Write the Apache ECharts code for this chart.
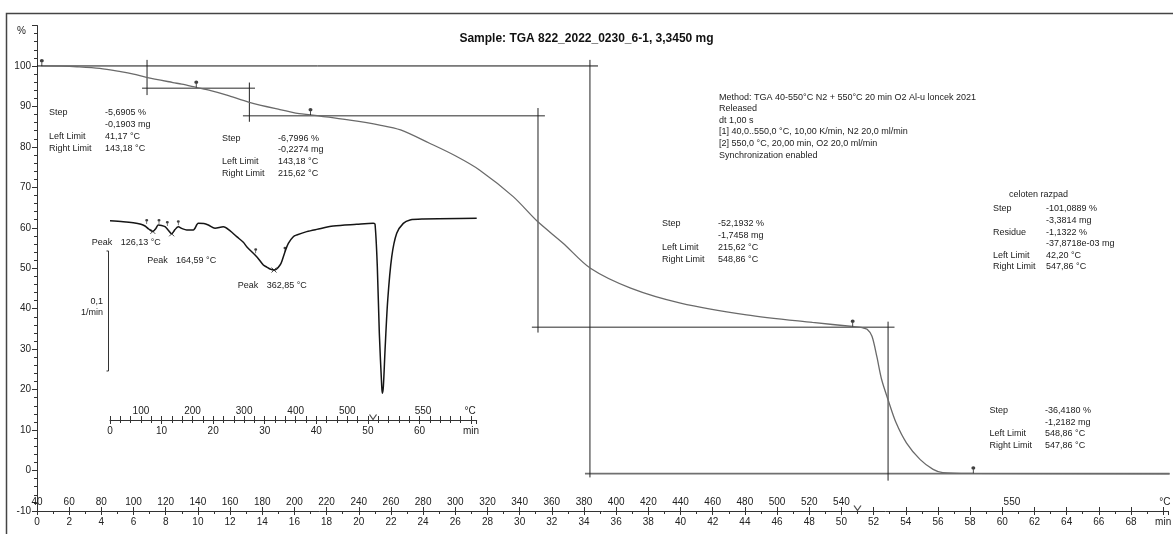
<!DOCTYPE html>
<html><head><meta charset="utf-8">
<script src="https://cdn.jsdelivr.net/npm/echarts@6/dist/echarts.min.js"></script>
<style>html,body{margin:0;padding:0;background:#fff}#c{width:1173px;height:534px}</style>
</head><body><div id="c"></div>
<script>
// ---------------- DATA ----------------
const chartTitle = 'Sample: TGA 822_2022_0230_6-1, 3,3450 mg';

// main TGA curve: time (min) vs mass (%)
const tgaTime = [0.25,1.5,2.5,3.9,5.2,6.0,6.8,8.45,9.0,9.9,10.8,11.8,13.2,15.1,16.3,17.0,19.45,21.3,22.6,24.4,26.0,27.5,29.6,31.1,32.7,34.4,36.9,40.0,44.1,48.2,50.7,51.3,51.6,51.9,52.2,52.5,52.9,53.4,54.05,54.9,55.7,56.3,58.2,70.4];
const tgaPercent = [100.0,99.95,99.8,99.4,98.6,98.0,97.2,95.9,95.5,94.7,93.9,92.8,91.0,89.2,88.2,87.9,86.6,85.4,84.2,80.9,77.8,74.3,67.7,61.6,56.2,50.0,45.1,41.4,38.5,36.6,35.6,35.3,34.9,33.2,28.2,22.5,17.5,11.8,6.8,2.7,0.3,-0.5,-0.7,-0.8];

// evaluation markers on the TGA curve
const tgaMarkerTime = [0.3, 9.9, 17.0, 50.7, 58.2];
const tgaMarkerPercent = [100.0, 94.7, 87.9, 35.6, -0.7];

// step evaluation lines: horizontals [t1, t2, %], verticals [t, %top, %bottom]
const topLine = [0, 34.87, 100];
const stepHorizontals = [[6.53,13.55,94.5],[12.8,31.57,87.7],[30.76,53.3,35.4],[34.06,70.4,-0.75]];
const stepVerticals = [[6.84,101.5,92.8],[13.2,95.9,86.2],[31.14,89.6,34.1],[34.37,101.5,-1.7],[52.9,36.8,-2.5]];

// inset DTG curve: time (min) vs 1/min
const dtgTime = [0,2.58,4.52,6.0,6.79,7.5,8.3,8.9,9.37,10.0,10.67,11.3,11.96,12.6,13.24,14.0,14.87,16.15,17.12,18.2,19.06,20.36,21.97,23.3,24.57,25.85,26.51,28.45,29.73,30.39,31.03,31.8,32.32,32.97,33.29,33.93,34.58,35.54,36.2,38.14,40.08,43.3,47.84,51.06,51.39,51.83,52.22,52.69,52.8,53.0,53.33,53.85,54.63,55.59,56.87,58.17,60.75,71.1];
const dtgValue = [-0.0006,-0.0014,-0.0023,-0.0035,-0.0050,-0.0075,-0.0095,-0.0070,-0.0042,-0.0045,-0.0056,-0.0085,-0.0115,-0.0080,-0.0056,-0.0072,-0.0083,-0.0083,-0.0028,-0.0030,-0.0042,-0.0069,-0.0056,-0.0090,-0.0139,-0.0185,-0.0222,-0.0306,-0.0375,-0.0392,-0.0408,-0.0417,-0.0408,-0.0375,-0.0347,-0.0264,-0.0194,-0.0139,-0.0125,-0.0097,-0.0078,-0.0050,-0.0036,-0.0028,-0.0035,-0.0389,-0.0944,-0.1389,-0.1444,-0.1389,-0.1083,-0.0667,-0.0306,-0.0111,-0.0028,0.0000,0.0008,0.0014];
const dtgLimitTime = [7.12, 9.5, 11.11, 13.24, 28.25, 33.93];
const dtgLimitValue = [-0.0033, -0.0033, -0.005, -0.0044, -0.0278, -0.0264];
const dtgPeakTime = [8.3, 11.96, 31.8];
const dtgPeakValue = [-0.0095, -0.0115, -0.0417];
const dtgScaleBar = [0.1]; // 1/min

// tick labels
const timeTickValues = [0,2,4,6,8,10,12,14,16,18,20,22,24,26,28,30,32,34,36,38,40,42,44,46,48,50,52,54,56,58,60,62,64,66,68,70];
const timeTickLabels = ['0','2','4','6','8','10','12','14','16','18','20','22','24','26','28','30','32','34','36','38','40','42','44','46','48','50','52','54','56','58','60','62','64','66','68','min'];
const tempTickTimes = [0,2,4,6,8,10,12,14,16,18,20,22,24,26,28,30,32,34,36,38,40,42,44,46,48,50,60.6,70.1];
const tempTickLabels = ['40','60','80','100','120','140','160','180','200','220','240','260','280','300','320','340','360','380','400','420','440','460','480','500','520','540','550','°C'];
const yTickValues = [-10,0,10,20,30,40,50,60,70,80,90,100,110];
const yTickLabels = ['-10','0','10','20','30','40','50','60','70','80','90','100','%'];
const insetTimeTickValues = [0,10,20,30,40,50,60,70];
const insetTimeTickLabels = ['0','10','20','30','40','50','60','min'];
const insetTempTickTimes = [6,16,26,36,46,60.7,69.8];
const insetTempTickLabels = ['100','200','300','400','500','550','°C'];
const breakTime = [51];

// annotation texts
const step1Text = [['Step','-5,6905 %'],['','-0,1903 mg'],['Left Limit','41,17 °C'],['Right Limit','143,18 °C']];
const step2Text = [['Step','-6,7996 %'],['','-0,2274 mg'],['Left Limit','143,18 °C'],['Right Limit','215,62 °C']];
const step3Text = [['Step','-52,1932 %'],['','-1,7458 mg'],['Left Limit','215,62 °C'],['Right Limit','548,86 °C']];
const totalTitle = 'celoten razpad';
const totalText = [['Step','-101,0889 %'],['','-3,3814 mg'],['Residue','-1,1322 %'],['','-37,8718e-03 mg'],['Left Limit','42,20 °C'],['Right Limit','547,86 °C']];
const step4Text = [['Step','-36,4180 %'],['','-1,2182 mg'],['Left Limit','548,86 °C'],['Right Limit','547,86 °C']];
const methodText = ['Method: TGA 40-550°C N2 + 550°C 20 min O2 Al-u loncek 2021','Released','dt 1,00 s','[1] 40,0..550,0 °C, 10,00 K/min, N2 20,0 ml/min','[2] 550,0 °C, 20,00 min, O2 20,0 ml/min','Synchronization enabled'];
const peakText = [['Peak','126,13 °C'],['Peak','164,59 °C'],['Peak','362,85 °C']];
const scaleText = ['0,1','1/min'];

// ---------------- CHART ----------------
const FONT = '"Liberation Sans", Arial, sans-serif';
const zip = (a, b) => a.map((v, i) => [v, b[i]]);
const lookup = (vals, labels) => v => { const i = vals.findIndex(x => Math.abs(x - v) < 1e-6); return i < 0 ? '' : labels[i]; };

const chart = echarts.init(document.getElementById('c'), null, {renderer: 'canvas'});

// inset DTG y-mapping: 0.1 1/min spans 120 px; grid height 220 px
const insetMin = -0.16667, insetMax = 0.016667;

const series = [];
function seg(points, color, width, xi, yi) {
  series.push({type: 'line', xAxisIndex: xi, yAxisIndex: yi, data: points, symbol: 'none', silent: true,
    clip: false, lineStyle: {color: color, width: width}, z: 2, animation: false});
}
seg([[topLine[0], topLine[2]], [topLine[1], topLine[2]]], '#111', 1, 0, 0);
stepHorizontals.forEach(h => seg([[h[0], h[2]], [h[1], h[2]]], '#707070', 1.6, 0, 0));
stepVerticals.forEach(v => seg([[v[0], v[1]], [v[0], v[2]]], '#222', 1, 0, 0));

series.push({type: 'line', xAxisIndex: 0, yAxisIndex: 0, data: zip(tgaTime, tgaPercent), symbol: 'none',
  smooth: 0.3, lineStyle: {color: '#6a6a6a', width: 1.3}, z: 3, animation: false, silent: true});

const pinPath = 'path://M3,0 A3,3 0 1,1 3,6 A3,3 0 1,1 3,0 Z M2.3,5 L3.7,5 L3.7,12 L2.3,12 Z';
series.push({type: 'scatter', xAxisIndex: 0, yAxisIndex: 0, data: zip(tgaMarkerTime, tgaMarkerPercent),
  symbol: pinPath, symbolSize: [4, 7], symbolOffset: [0, '-50%'], itemStyle: {color: '#111'}, z: 5, silent: true, animation: false});

// axis break marks
const vPath = 'path://M0,0 L4,6 L8,0';
series.push({type: 'scatter', xAxisIndex: 0, yAxisIndex: 0, data: breakTime.map(t => [t, -10]), symbol: vPath,
  symbolSize: [7, 5], symbolOffset: [0, -3], itemStyle: {color: 'none', borderColor: '#222', borderWidth: 1}, silent: true, animation: false, clip: false});
series.push({type: 'scatter', xAxisIndex: 2, yAxisIndex: 1, data: breakTime.map(t => [t, insetMin]), symbol: vPath,
  symbolSize: [7, 5], symbolOffset: [0, -3], itemStyle: {color: 'none', borderColor: '#222', borderWidth: 1}, silent: true, animation: false, clip: false});

// DTG inset
series.push({type: 'line', xAxisIndex: 2, yAxisIndex: 1, data: zip(dtgTime, dtgValue), symbol: 'none',
  smooth: 0.3, lineStyle: {color: '#151515', width: 1.5}, z: 3, animation: false, silent: true, clip: false});
series.push({type: 'scatter', xAxisIndex: 2, yAxisIndex: 1, data: zip(dtgLimitTime, dtgLimitValue),
  symbol: pinPath, symbolSize: [3, 5], symbolOffset: [0, '-50%'], itemStyle: {color: '#111'}, z: 5, silent: true, animation: false});
series.push({type: 'scatter', xAxisIndex: 2, yAxisIndex: 1, data: zip(dtgPeakTime, dtgPeakValue),
  symbol: 'path://M0,0 L6,6 M6,0 L0,6', symbolSize: 5, itemStyle: {color: 'none', borderColor: '#222', borderWidth: 1}, z: 5, silent: true, animation: false});
// scale bar 0.1 1/min, drawn through the inset's scales
const sbTop = -0.02583, sbBot = sbTop - dtgScaleBar[0];
series.push({type: 'custom', xAxisIndex: 2, yAxisIndex: 1, coordinateSystem: 'cartesian2d', clip: false, silent: true, animation: false,
  data: [[0, sbTop, sbBot]],
  renderItem: function (params, api) {
    const a = api.coord([0, api.value(1)]);
    const b = api.coord([0, api.value(2)]);
    const x = a[0] - 1.5;
    return {type: 'polyline', shape: {points: [[x - 2, a[1]], [x, a[1]], [x, b[1]], [x - 2, b[1]]]},
      style: {stroke: '#333', lineWidth: 1, fill: null}};
  }});

// text graphics
const graphics = [];
function txt(s, x, y, align, opts) {
  graphics.push({type: 'text', silent: true, z: 10, style: Object.assign({text: s, x: x, y: y, align: align || 'left',
    verticalAlign: 'middle', fill: '#222', font: '9px ' + FONT}, opts || {})});
}
function block(lines, x, vx, y, dy) {
  lines.forEach((l, i) => { if (l[0]) txt(l[0], x, y + i * dy); txt(l[1], vx, y + i * dy); });
}
block(step1Text, 49, 105, 113, 11.7);
block(step2Text, 222, 278, 138.3, 11.7);
block(step3Text, 662, 718, 224, 11.7);
txt(totalTitle, 1009, 194.3);
block(totalText, 993, 1046, 209, 11.55);
block(step4Text, 989.5, 1045, 410.7, 11.6);
methodText.forEach((s, i) => txt(s, 719, 97.3 + i * 11.55));
[[91.7, 120.7, 242.7], [147.3, 176, 261], [237.7, 266.7, 286]].forEach((p, i) => { txt(peakText[i][0], p[0], p[2]); txt(peakText[i][1], p[1], p[2]); });
txt(scaleText[0], 103, 301.7, 'right');
txt(scaleText[1], 103, 312.3, 'right');
// outer frame
graphics.push({type: 'polyline', silent: true, shape: {points: [[6.5, 534], [6.5, 13.5], [1173, 13.5]]}, style: {stroke: '#444', lineWidth: 1.5, fill: null}});

const axisLineStyle = {color: '#333', width: 1};
const labelBase = {color: '#222', fontSize: 10, fontFamily: FONT};
const yLabel = lookup(yTickValues, yTickLabels);

const option = {
  animation: false,
  backgroundColor: '#fff',
  title: {text: chartTitle, left: 'center', top: 28, textStyle: {fontSize: 12, fontWeight: 'bold', fontFamily: FONT, color: '#111'}},
  grid: [
    {left: 37, top: 25.5, right: 5, bottom: 23, outerBoundsMode: 'none', containLabel: false},
    {left: 110, top: 200, width: 366.7, height: 220, outerBoundsMode: 'none', containLabel: false}
  ],
  xAxis: [
    {gridIndex: 0, type: 'value', position: 'bottom', min: 0, max: 70.3, interval: 2,
      axisLine: {show: true, onZero: false, lineStyle: axisLineStyle},
      axisTick: {show: true, length: 4, lineStyle: axisLineStyle},
      minorTick: {show: true, splitNumber: 2, length: 3, lineStyle: axisLineStyle},
      splitLine: {show: false},
      axisLabel: Object.assign({margin: 6, showMaxLabel: false, showMinLabel: true, formatter: lookup(timeTickValues, timeTickLabels)}, labelBase)},
    {gridIndex: 0, type: 'value', position: 'bottom', min: 0, max: 70.3,
      axisLine: {show: false, onZero: false},
      axisTick: {show: true, inside: true, length: 4, customValues: timeTickValues, lineStyle: axisLineStyle},
      splitLine: {show: false},
      axisLabel: Object.assign({inside: true, margin: 4, customValues: tempTickTimes, formatter: lookup(tempTickTimes, tempTickLabels)}, labelBase)},
    {gridIndex: 1, type: 'value', position: 'bottom', min: 0, max: 71.1, interval: 10,
      axisLine: {show: true, onZero: false, lineStyle: axisLineStyle},
      axisTick: {show: true, length: 4, lineStyle: axisLineStyle},
      minorTick: {show: true, splitNumber: 5, length: 3, lineStyle: axisLineStyle},
      splitLine: {show: false},
      axisLabel: Object.assign({margin: 6, showMaxLabel: false, formatter: lookup(insetTimeTickValues, insetTimeTickLabels)}, labelBase)},
    {gridIndex: 1, type: 'value', position: 'bottom', min: 0, max: 71.1,
      axisLine: {show: false, onZero: false},
      axisTick: {show: true, inside: true, length: 4, customValues: timeTickValues, lineStyle: axisLineStyle},
      splitLine: {show: false},
      axisLabel: Object.assign({inside: true, margin: 4, customValues: insetTempTickTimes, formatter: lookup(insetTempTickTimes, insetTempTickLabels)}, labelBase)}
  ],
  yAxis: [
    {gridIndex: 0, type: 'value', min: -10, max: 110, interval: 10,
      axisLine: {show: true, onZero: false, lineStyle: axisLineStyle},
      axisTick: {show: true, length: 5, lineStyle: axisLineStyle},
      minorTick: {show: true, splitNumber: 5, length: 3, lineStyle: axisLineStyle},
      splitLine: {show: false},
      axisLabel: Object.assign({margin: 6, formatter: v => { const s = yLabel(v); return s === '%' ? '{pct|%}' : s; },
        rich: {pct: {fontSize: 10, fontFamily: FONT, color: '#222', padding: [12, 5, 0, 0]}}}, labelBase)},
    {gridIndex: 1, type: 'value', min: insetMin, max: insetMax, show: false, splitLine: {show: false}}
  ],
  series: series,
  graphic: graphics
};
chart.setOption(option);
</script></body></html>
